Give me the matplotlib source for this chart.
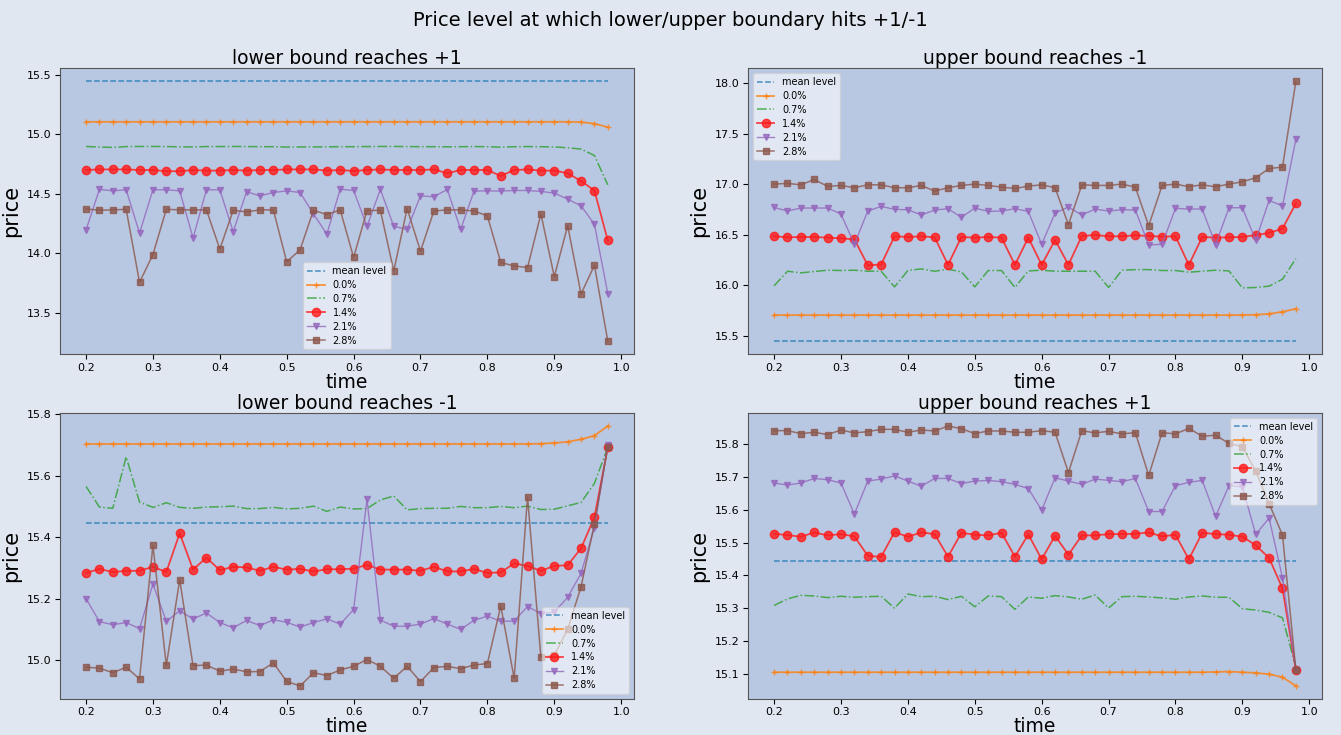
import numpy as np
import matplotlib
matplotlib.use("Agg")
import matplotlib.pyplot as plt

# time grid shared by all panels
time = np.round(np.arange(0.20, 0.981, 0.02), 2)
mean_level = 15.445
labels = ["0.0%", "0.7%", "1.4%", "2.1%", "2.8%"]

# ---- lower bound reaches +1 ----
lb_p1_00 = [15.105] * 37 + [15.103, 15.090, 15.060]
lb_p1_07 = [14.898, 14.893, 14.890, 14.897, 14.898, 14.898, 14.897, 14.895, 14.894, 14.897,
            14.897, 14.898, 14.897, 14.896, 14.896, 14.893, 14.894, 14.894, 14.895, 14.896,
            14.896, 14.897, 14.898, 14.898, 14.897, 14.896, 14.896, 14.895, 14.896, 14.897,
            14.896, 14.892, 14.896, 14.897, 14.896, 14.894, 14.887, 14.876, 14.822, 14.575]
lb_p1_14 = [14.700, 14.705, 14.705, 14.705, 14.700, 14.700, 14.690, 14.690, 14.700, 14.695,
            14.695, 14.700, 14.695, 14.700, 14.700, 14.705, 14.705, 14.705, 14.695, 14.700,
            14.692, 14.700, 14.705, 14.700, 14.700, 14.700, 14.705, 14.673, 14.700, 14.700,
            14.700, 14.650, 14.700, 14.705, 14.695, 14.695, 14.673, 14.608, 14.527, 14.108]
lb_p1_21 = [14.196, 14.537, 14.525, 14.534, 14.170, 14.534, 14.534, 14.525, 14.128, 14.534,
            14.534, 14.182, 14.517, 14.483, 14.511, 14.525, 14.511, 14.331, 14.162, 14.539,
            14.528, 14.227, 14.537, 14.227, 14.201, 14.483, 14.475, 14.537, 14.201, 14.523,
            14.525, 14.523, 14.528, 14.528, 14.520, 14.506, 14.455, 14.399, 14.244, 13.661]
lb_p1_28 = [14.373, 14.362, 14.365, 14.370, 13.756, 13.990, 14.370, 14.365, 14.365, 14.365,
            14.035, 14.362, 14.348, 14.365, 14.365, 13.928, 14.030, 14.362, 14.325, 14.365,
            13.965, 14.359, 14.362, 13.852, 14.376, 14.018, 14.356, 14.365, 14.365, 14.356,
            14.314, 13.923, 13.894, 13.880, 14.331, 13.804, 14.232, 13.658, 13.900, 13.261]

# ---- upper bound reaches -1 ----
ub_m1_00 = [15.704] * 35 + [15.705, 15.708, 15.717, 15.737, 15.767]
ub_m1_07 = [15.994, 16.139, 16.123, 16.136, 16.149, 16.146, 16.149, 16.139, 16.139, 15.984,
            16.146, 16.162, 16.139, 16.159, 16.132, 15.984, 16.146, 16.146, 15.978, 16.142,
            16.149, 16.139, 16.139, 16.139, 16.139, 15.978, 16.149, 16.155, 16.155, 16.146,
            16.146, 16.129, 16.139, 16.149, 16.142, 15.974, 15.978, 15.991, 16.060, 16.264]
ub_m1_14 = [16.485, 16.475, 16.478, 16.478, 16.472, 16.465, 16.455, 16.198, 16.205, 16.485,
            16.478, 16.485, 16.475, 16.202, 16.478, 16.472, 16.478, 16.472, 16.202, 16.472,
            16.202, 16.449, 16.202, 16.488, 16.498, 16.485, 16.485, 16.495, 16.488, 16.482,
            16.485, 16.202, 16.478, 16.472, 16.475, 16.478, 16.498, 16.518, 16.561, 16.811]
ub_m1_21 = [16.771, 16.735, 16.765, 16.765, 16.765, 16.706, 16.406, 16.735, 16.781, 16.752,
            16.748, 16.696, 16.745, 16.758, 16.673, 16.765, 16.732, 16.735, 16.758, 16.732,
            16.406, 16.715, 16.775, 16.696, 16.755, 16.735, 16.748, 16.745, 16.399, 16.406,
            16.762, 16.755, 16.755, 16.403, 16.768, 16.768, 16.445, 16.841, 16.785, 17.447]
ub_m1_28 = [17.002, 17.009, 16.995, 17.048, 16.979, 16.989, 16.966, 16.995, 16.995, 16.966,
            16.966, 16.989, 16.933, 16.966, 16.989, 17.002, 16.989, 16.972, 16.959, 16.982,
            16.995, 16.966, 16.600, 16.995, 16.989, 16.989, 17.002, 16.972, 16.590, 16.989,
            17.002, 16.976, 16.995, 16.976, 17.002, 17.025, 17.065, 17.157, 17.170, 18.020]

# ---- lower bound reaches -1 ----
lb_m1_00 = [15.703] * 34 + [15.704, 15.706, 15.710, 15.718, 15.730, 15.761]
lb_m1_07 = [15.565, 15.498, 15.494, 15.661, 15.514, 15.497, 15.512, 15.497, 15.494, 15.498,
            15.499, 15.501, 15.493, 15.493, 15.497, 15.492, 15.494, 15.501, 15.484, 15.498,
            15.492, 15.493, 15.521, 15.534, 15.489, 15.493, 15.494, 15.494, 15.500, 15.496,
            15.496, 15.500, 15.496, 15.501, 15.490, 15.491, 15.502, 15.513, 15.575, 15.692]
lb_m1_14 = [15.284, 15.297, 15.287, 15.291, 15.291, 15.304, 15.287, 15.413, 15.295, 15.334,
            15.293, 15.304, 15.302, 15.291, 15.304, 15.295, 15.297, 15.289, 15.296, 15.296,
            15.298, 15.310, 15.295, 15.295, 15.295, 15.291, 15.304, 15.289, 15.289, 15.297,
            15.284, 15.286, 15.315, 15.307, 15.291, 15.307, 15.309, 15.364, 15.465, 15.692]
lb_m1_21 = [15.201, 15.126, 15.116, 15.123, 15.103, 15.248, 15.127, 15.161, 15.135, 15.154,
            15.123, 15.106, 15.130, 15.113, 15.132, 15.124, 15.108, 15.123, 15.135, 15.118,
            15.165, 15.523, 15.131, 15.111, 15.111, 15.118, 15.136, 15.118, 15.101, 15.130,
            15.144, 15.127, 15.128, 15.175, 15.152, 15.157, 15.205, 15.283, 15.431, 15.700]
lb_m1_28 = [14.978, 14.975, 14.960, 14.978, 14.940, 15.374, 14.984, 15.262, 14.983, 14.985,
            14.965, 14.972, 14.963, 14.964, 14.992, 14.932, 14.917, 14.960, 14.951, 14.969,
            14.981, 15.003, 14.981, 14.942, 14.981, 14.931, 14.977, 14.981, 14.973, 14.985,
            14.990, 15.177, 14.942, 15.531, 15.010, 15.017, 15.101, 15.239, 15.444, 15.694]

# ---- upper bound reaches +1 ----
ub_p1_00 = [15.104] * 33 + [15.105, 15.106, 15.104, 15.102, 15.098, 15.089, 15.062]
ub_p1_07 = [15.308, 15.328, 15.339, 15.337, 15.332, 15.336, 15.333, 15.335, 15.336, 15.300,
            15.343, 15.335, 15.336, 15.326, 15.336, 15.304, 15.337, 15.335, 15.296, 15.334,
            15.330, 15.338, 15.334, 15.327, 15.340, 15.300, 15.335, 15.336, 15.334, 15.331,
            15.327, 15.334, 15.337, 15.333, 15.333, 15.298, 15.294, 15.287, 15.270, 15.120]
ub_p1_14 = [15.527, 15.523, 15.518, 15.531, 15.522, 15.526, 15.519, 15.460, 15.456, 15.532,
            15.518, 15.531, 15.526, 15.457, 15.530, 15.524, 15.522, 15.530, 15.457, 15.525,
            15.449, 15.521, 15.463, 15.522, 15.522, 15.526, 15.526, 15.527, 15.531, 15.519,
            15.524, 15.449, 15.530, 15.526, 15.524, 15.518, 15.492, 15.453, 15.360, 15.111]
ub_p1_21 = [15.682, 15.676, 15.682, 15.696, 15.692, 15.682, 15.587, 15.688, 15.694, 15.704,
            15.688, 15.672, 15.696, 15.696, 15.680, 15.688, 15.690, 15.686, 15.678, 15.665,
            15.599, 15.698, 15.688, 15.678, 15.694, 15.690, 15.686, 15.696, 15.595, 15.595,
            15.674, 15.684, 15.690, 15.580, 15.674, 15.670, 15.525, 15.575, 15.392, 15.111]
ub_p1_28 = [15.842, 15.842, 15.833, 15.837, 15.830, 15.844, 15.835, 15.839, 15.846, 15.846,
            15.837, 15.844, 15.841, 15.856, 15.848, 15.833, 15.841, 15.841, 15.837, 15.837,
            15.842, 15.837, 15.714, 15.842, 15.835, 15.840, 15.832, 15.836, 15.705, 15.836,
            15.832, 15.849, 15.825, 15.828, 15.803, 15.793, 15.718, 15.619, 15.523, 15.111]

panels = [
    ("lower bound reaches +1", [lb_p1_00, lb_p1_07, lb_p1_14, lb_p1_21, lb_p1_28], "lower center"),
    ("upper bound reaches -1", [ub_m1_00, ub_m1_07, ub_m1_14, ub_m1_21, ub_m1_28], "upper left"),
    ("lower bound reaches -1", [lb_m1_00, lb_m1_07, lb_m1_14, lb_m1_21, lb_m1_28], "lower right"),
    ("upper bound reaches +1", [ub_p1_00, ub_p1_07, ub_p1_14, ub_p1_21, ub_p1_28], "upper right"),
]

styles = [
    dict(color="#ff7f0e", linestyle="-", marker="+", markersize=4, linewidth=1.3),
    dict(color="#2ca02c", linestyle="-.", marker=None, linewidth=1.1),
    dict(color="#ff1a1a", linestyle="-", marker="o", markersize=6, linewidth=1.3),
    dict(color="#9467bd", linestyle="-", marker="v", markersize=5, linewidth=1.0),
    dict(color="#8c564b", linestyle="-", marker="s", markersize=5, linewidth=1.1),
]

fig_bg = "#e1e7f1"
ax_bg = "#b9c8e2"

fig = plt.figure(figsize=(13.41, 7.35), dpi=100, facecolor=fig_bg)
positions = [
    [0.0447, 0.518, 0.428, 0.389],
    [0.5578, 0.518, 0.428, 0.389],
    [0.0447, 0.049, 0.428, 0.389],
    [0.5578, 0.049, 0.428, 0.389],
]

for pos, (title, series, loc) in zip(positions, panels):
    ax = fig.add_axes(pos, facecolor=ax_bg)
    ax.plot(time, np.full(time.shape, mean_level), color="#1f77b4",
            linestyle="--", linewidth=1.1, alpha=0.8, label="mean level")
    for vals, lab, st in zip(series, labels, styles):
        ax.plot(time, vals, label=lab, alpha=0.8, **st)
    ax.set_title(title, fontsize=13.5, pad=2)
    ax.set_xlabel("time", fontsize=13.5, labelpad=0)
    ax.set_ylabel("price", fontsize=15)
    ax.tick_params(labelsize=8, pad=2.5)
    ax.set_xticks([0.2, 0.3, 0.4, 0.5, 0.6, 0.7, 0.8, 0.9, 1.0])
    for sp in ax.spines.values():
        sp.set_color("#555555")
    ax.legend(loc=loc, fontsize=7, framealpha=0.6, labelspacing=0.4,
              handlelength=1.8, borderpad=0.4)

fig.suptitle("Price level at which lower/upper boundary hits +1/-1", fontsize=14, y=0.985)
fig.savefig("out.png", dpi=100, facecolor=fig_bg)
